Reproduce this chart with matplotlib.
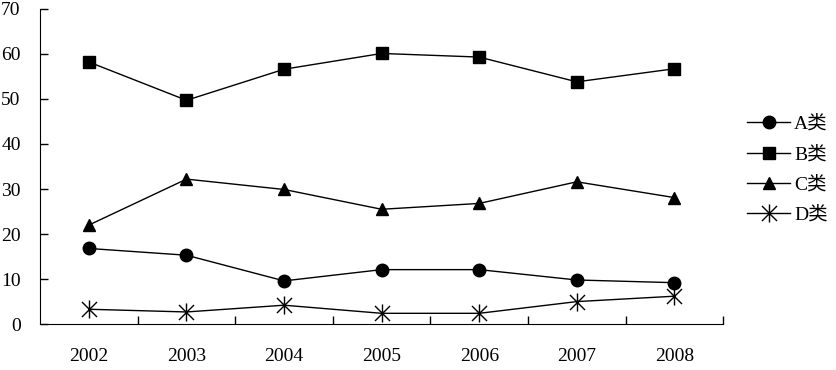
import numpy as np
import matplotlib.pyplot as plt
from matplotlib.path import Path

plt.rcParams['font.family'] = ['Liberation Serif', 'Noto Sans CJK SC']

years = ['2002', '2003', '2004', '2005', '2006', '2007', '2008']
a_vals = [16.8, 15.3, 9.6, 12.1, 12.1, 9.8, 9.2]
b_vals = [58.2, 49.7, 56.6, 60.1, 59.3, 53.8, 56.7]
c_vals = [22.0, 32.2, 29.9, 25.5, 26.8, 31.6, 28.1]
d_vals = [3.3, 2.7, 4.2, 2.4, 2.4, 5.0, 6.2]
labels = ['A类', 'B类', 'C类', 'D类']

# x with a vertical bar through it
star = Path([(-1, -1), (1, 1), (-1, 1), (1, -1), (0, -1.2), (0, 1.2)],
            [Path.MOVETO, Path.LINETO] * 3)

fig = plt.figure(figsize=(8.36, 3.7), dpi=100)
ax = fig.add_axes([0.048, 0.124, 0.817, 0.852])

x = np.arange(len(years))
ax.plot(x, a_vals, color='black', lw=1, marker='o', ms=9, label=labels[0])
ax.plot(x, b_vals, color='black', lw=1, marker='s', ms=8, label=labels[1])
ax.plot(x, c_vals, color='black', lw=1, marker='^', ms=9, label=labels[2])
ax.plot(x, d_vals, color='black', lw=1, marker=star, ms=13, mew=1, label=labels[3])

ax.set_xlim(-0.5, len(years) - 0.5)
ax.set_ylim(0, 70)
ax.set_yticks(range(0, 71, 10))
ax.set_xticks(x)
ax.set_xticklabels(years)
ax.set_xticks(np.arange(0.5, len(years), 1), minor=True)
ax.tick_params(axis='x', which='major', length=0, pad=17, labelsize=14)
ax.tick_params(axis='x', which='minor', direction='in', length=6, width=1)
ax.tick_params(axis='y', direction='in', length=6, width=1, pad=14, labelsize=14)
for s in ['top', 'right']:
    ax.spines[s].set_visible(False)

ax.legend(loc='center left', bbox_to_anchor=(1.01, 0.49), frameon=False,
          fontsize=14, handlelength=2.2, labelspacing=0.65, handletextpad=0.2)

plt.savefig('out.png')
